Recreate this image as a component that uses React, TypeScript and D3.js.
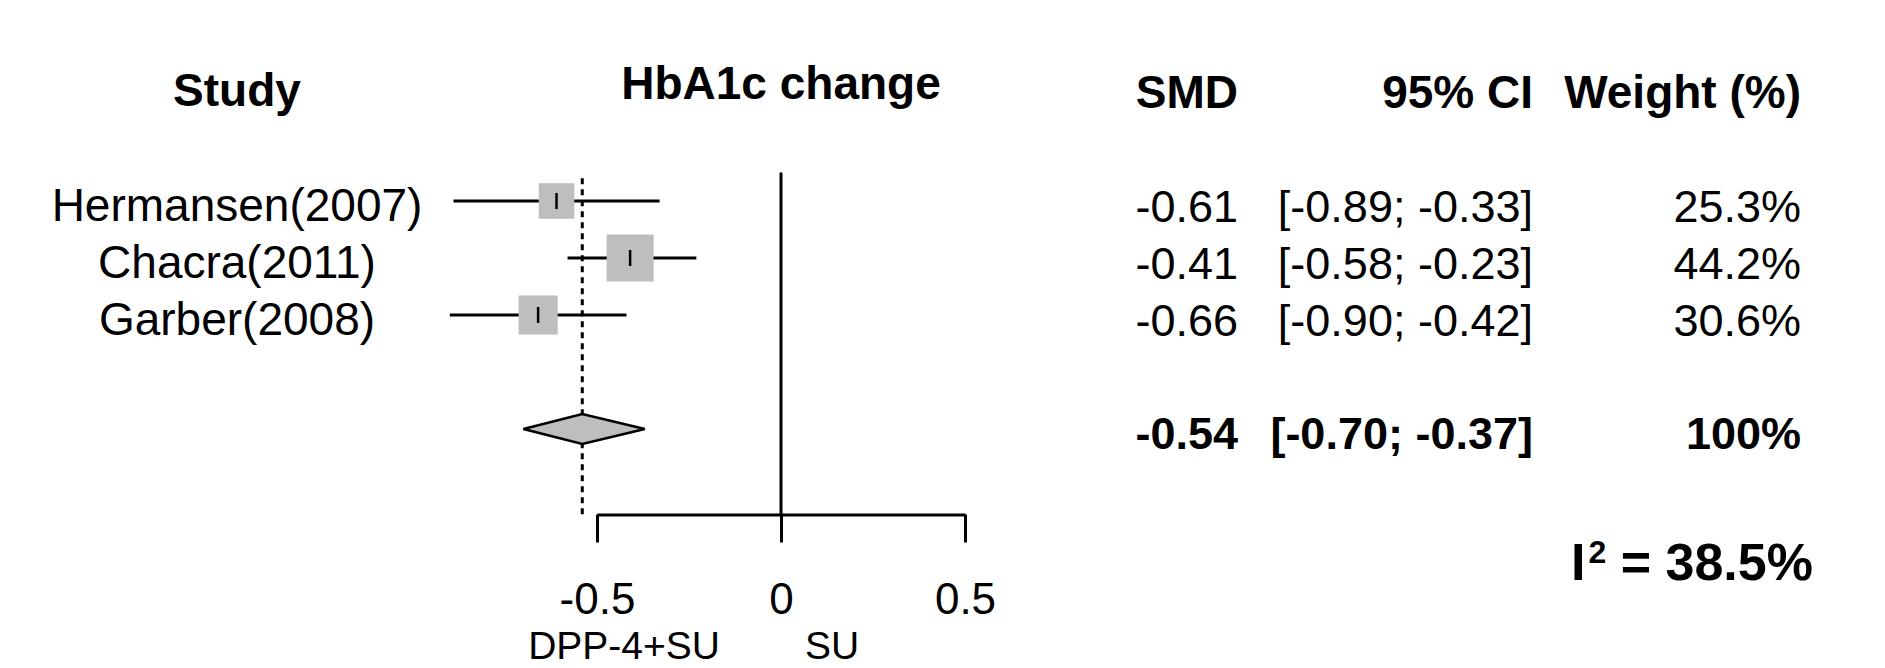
import { useEffect, useRef } from 'react';
import * as d3 from 'd3';

const studies = ['Hermansen(2007)', 'Chacra(2011)', 'Garber(2008)'];
const smd = [-0.61, -0.41, -0.66];
const ciLower = [-0.89, -0.58, -0.9];
const ciUpper = [-0.33, -0.23, -0.42];
const weights = [25.3, 44.2, 30.6];

const pooled = { smd: -0.54, lower: -0.7, upper: -0.37, weight: '100%' };
const heterogeneity = '38.5%';

const xTicks = [-0.5, 0, 0.5];
const leftLabel = 'DPP-4+SU';
const rightLabel = 'SU';

const fmt = (v: number) => v.toFixed(2);
const fmtCi = (lo: number, hi: number) => `[${fmt(lo)}; ${fmt(hi)}]`;

const App = () => {
  const svgRef = useRef<SVGSVGElement>(null);
  const width = 1885;
  const height = 668;

  useEffect(() => {
    if (!svgRef.current) return;
    const svg = d3.select(svgRef.current);
    svg.selectAll('*').remove();

    const font = '"Liberation Sans", Arial, sans-serif';

    const x = d3.scaleLinear().domain([-0.5, 0.5]).range([597, 965]);
    // row index -> y centre
    const row = d3.scaleLinear().domain([0, 1]).range([201, 258]);
    const size = d3.scaleSqrt().domain([0, d3.max(weights) || 1]).range([0, 47]);

    const cols = { study: 237, smd: 1238, ci: 1533, weight: 1801 };
    const summaryRow = 4;
    const axisY = row(5.5);
    const lw = 3;

    const g = svg.append('g').style('font-family', font).attr('fill', '#000');

    // headers
    const header = (txt: string, xPos: number, y: number, anchor: string) =>
      g
        .append('text')
        .attr('x', xPos)
        .attr('y', y)
        .attr('text-anchor', anchor)
        .style('font-size', '46px')
        .style('font-weight', 'bold')
        .text(txt);
    header('Study', cols.study, 106, 'middle');
    header('HbA1c change', x(0), 99, 'middle');
    header('SMD', cols.smd, 108, 'end');
    header('95% CI', cols.ci, 108, 'end');
    header('Weight (%)', cols.weight, 108, 'end');

    // reference lines
    g.append('line')
      .attr('x1', x(0))
      .attr('x2', x(0))
      .attr('y1', row(-0.5))
      .attr('y2', axisY)
      .attr('stroke', '#000')
      .attr('stroke-width', lw);

    g.append('line')
      .attr('x1', x(pooled.smd))
      .attr('x2', x(pooled.smd))
      .attr('y1', row(-0.4))
      .attr('y2', axisY)
      .attr('stroke', '#000')
      .attr('stroke-width', lw)
      .attr('stroke-dasharray', '6 5');

    const data = studies.map((s, i) => ({
      study: s,
      smd: smd[i],
      lo: ciLower[i],
      hi: ciUpper[i],
      w: weights[i],
      i,
    }));

    // CI lines
    g.selectAll('.ci')
      .data(data)
      .enter()
      .append('line')
      .attr('x1', (d) => x(d.lo))
      .attr('x2', (d) => x(d.hi))
      .attr('y1', (d) => row(d.i))
      .attr('y2', (d) => row(d.i))
      .attr('stroke', '#000')
      .attr('stroke-width', lw);

    // squares
    g.selectAll('.sq')
      .data(data)
      .enter()
      .append('rect')
      .attr('x', (d) => x(d.smd) - size(d.w) / 2)
      .attr('y', (d) => row(d.i) - size(d.w) / 2)
      .attr('width', (d) => size(d.w))
      .attr('height', (d) => size(d.w))
      .attr('fill', '#bebebe');

    // estimate ticks
    g.selectAll('.est')
      .data(data)
      .enter()
      .append('line')
      .attr('x1', (d) => x(d.smd))
      .attr('x2', (d) => x(d.smd))
      .attr('y1', (d) => row(d.i) - 8)
      .attr('y2', (d) => row(d.i) + 8)
      .attr('stroke', '#000')
      .attr('stroke-width', 2.5);

    // diamond
    const yd = row(summaryRow);
    const diamond: [number, number][] = [
      [x(pooled.lower), yd],
      [x(pooled.smd), yd - 15],
      [x(pooled.upper), yd],
      [x(pooled.smd), yd + 15],
    ];
    g.append('path')
      .attr('d', d3.line()(diamond) + 'Z')
      .attr('fill', '#bebebe')
      .attr('stroke', '#000')
      .attr('stroke-width', 2.5);

    // axis
    const axis = g
      .append('g')
      .attr('transform', `translate(0,${axisY})`)
      .call(
        d3
          .axisBottom(x)
          .tickValues(xTicks)
          .tickSize(28)
          .tickSizeOuter(0)
          .tickPadding(40)
          .tickFormat((d) => String(d))
      );
    axis.attr('font-family', null).attr('font-size', null);
    axis.select('.domain').attr('stroke', '#000').attr('stroke-width', lw);
    axis.selectAll('.tick line').attr('stroke', '#000').attr('stroke-width', lw);
    axis
      .selectAll('.tick text')
      .attr('fill', '#000')
      .style('font-size', '44px')
      .style('font-family', font);

    // side labels under the axis (kept inside the frame)
    g.append('text')
      .attr('x', 720)
      .attr('y', 659)
      .attr('text-anchor', 'end')
      .style('font-size', '39px')
      .text(leftLabel);
    g.append('text')
      .attr('x', 805)
      .attr('y', 659)
      .attr('text-anchor', 'start')
      .style('font-size', '39px')
      .text(rightLabel);

    // study labels
    g.selectAll('.lab')
      .data(data)
      .enter()
      .append('text')
      .attr('x', cols.study)
      .attr('y', (d) => row(d.i) + 20)
      .attr('text-anchor', 'middle')
      .style('font-size', '46px')
      .text((d) => d.study);

    // right columns
    const cell = (txt: string, xPos: number, y: number, bold = false) =>
      g
        .append('text')
        .attr('x', xPos)
        .attr('y', y)
        .attr('text-anchor', 'end')
        .style('font-size', '45px')
        .style('font-weight', bold ? 'bold' : 'normal')
        .text(txt);

    data.forEach((d) => {
      const y = row(d.i) + 21;
      cell(fmt(d.smd), cols.smd, y);
      cell(fmtCi(d.lo, d.hi), cols.ci, y);
      cell(`${d.w.toFixed(1)}%`, cols.weight, y);
    });
    const ys = row(summaryRow) + 20;
    cell(fmt(pooled.smd), cols.smd, ys, true);
    cell(fmtCi(pooled.lower, pooled.upper), cols.ci, ys, true);
    cell(pooled.weight, cols.weight, ys, true);

    // heterogeneity
    const i2 = g
      .append('text')
      .attr('x', 1571)
      .attr('y', 580)
      .style('font-size', '52px')
      .style('font-weight', 'bold');
    i2.append('tspan').text('I');
    i2.append('tspan').attr('dx', 3).attr('dy', -17).style('font-size', '32px').text('2');
    i2.append('tspan').attr('dy', 17).text(` = ${heterogeneity}`);
  }, []);

  return (
    <svg
      ref={svgRef}
      width={width}
      height={height}
      style={{ position: 'absolute', left: 0, top: 0, background: '#fff' }}
    />
  );
};

export default App;
